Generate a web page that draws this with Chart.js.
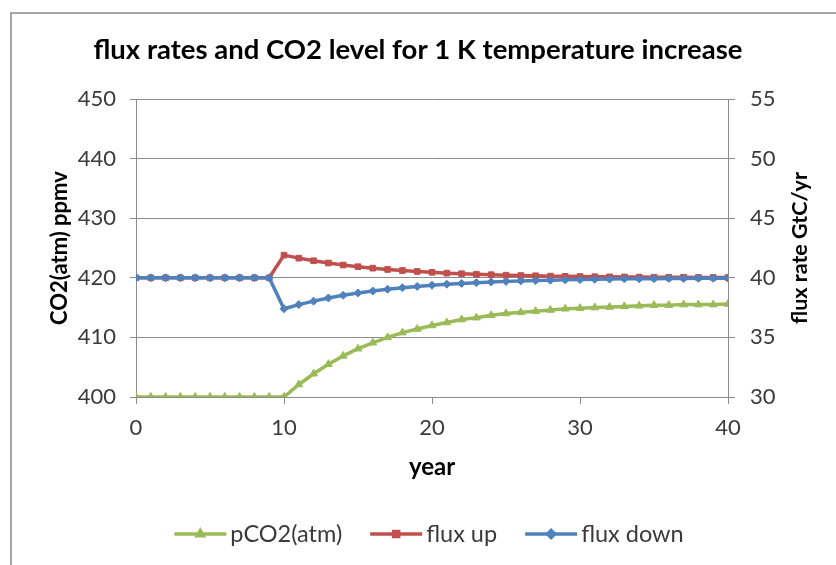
<!DOCTYPE html>
<html lang="en">
<head>
    <meta charset="utf-8" />
    <title>flux rates and CO2 level</title>
    <script src="https://cdn.jsdelivr.net/npm/chart.js"></script>
    <style>
        html, body { margin: 0; padding: 0; background: #fff; }
        #wrap { position: relative; width: 836px; height: 565px; overflow: hidden; }
        #frame {
            position: absolute; left: 10px; top: 12px; width: 900px; height: 700px;
            border-top: 2px solid #a6a6a6; border-left: 2px solid #a6a6a6;
        }
        #chart { position: absolute; left: 0; top: 0; }
    </style>
</head>
<body>
    <div id="wrap">
        <div id="frame"></div>
        <canvas id="chart" width="836" height="565"></canvas>
    </div>
    <script>
        // data
        const years = [0, 1, 2, 3, 4, 5, 6, 7, 8, 9, 10, 11, 12, 13, 14, 15, 16, 17, 18, 19, 20,
            21, 22, 23, 24, 25, 26, 27, 28, 29, 30, 31, 32, 33, 34, 35, 36, 37, 38, 39, 40];
        const pCO2 = [400, 400, 400, 400, 400, 400, 400, 400, 400, 400, 400,
            402.1, 403.9, 405.5, 406.9, 408.1, 409.1, 410.0, 410.8, 411.4, 412.0,
            412.5, 413.0, 413.3, 413.7, 414.0, 414.2, 414.4, 414.6, 414.8, 414.9,
            415.0, 415.1, 415.2, 415.3, 415.4, 415.4, 415.5, 415.5, 415.5, 415.6];
        const fluxUp = [40, 40, 40, 40, 40, 40, 40, 40, 40, 40,
            41.9, 41.65, 41.43, 41.24, 41.07, 40.93, 40.81, 40.70, 40.61, 40.53, 40.46,
            40.39, 40.34, 40.30, 40.26, 40.22, 40.19, 40.17, 40.14, 40.12, 40.11,
            40.09, 40.08, 40.07, 40.06, 40.05, 40.04, 40.04, 40.03, 40.03, 40.02];
        const fluxDown = [40, 40, 40, 40, 40, 40, 40, 40, 40, 40,
            37.4, 37.75, 38.04, 38.31, 38.53, 38.73, 38.89, 39.04, 39.17, 39.28, 39.38,
            39.46, 39.53, 39.59, 39.65, 39.70, 39.74, 39.77, 39.80, 39.83, 39.85,
            39.87, 39.89, 39.91, 39.92, 39.93, 39.94, 39.95, 39.96, 39.96, 39.97];
        const seriesNames = ['pCO2(atm)', 'flux up', 'flux down'];
        const co2Ticks = [400, 410, 420, 430, 440, 450];
        const fluxTicks = [30, 35, 40, 45, 50, 55];
        const yearTicks = [0, 10, 20, 30, 40];

        const FONT = 'Lato, "Open Sans", sans-serif';
        const GRID = '#8c8c8c';
        const TEXT = '#3a3a3a';

        function toPoints(values) {
            return years.map((yr, i) => ({ x: yr, y: values[i] }));
        }

        // legend under the plot, line + marker + label like the spreadsheet one
        const bottomLegend = {
            id: 'bottomLegend',
            afterDraw(chart) {
                const ctx = chart.ctx;
                const y = 534;
                const lineLen = 52, gap = 4, itemGap = 28;
                ctx.save();
                ctx.font = '23.5px ' + FONT;
                const items = chart.data.datasets.map(ds => ({ ds, w: ctx.measureText(ds.label).width }));
                const total = items.reduce((s, it) => s + lineLen + gap + it.w, 0) + itemGap * (items.length - 1);
                let x = 429 - total / 2;
                items.forEach(it => {
                    ctx.strokeStyle = it.ds.borderColor;
                    ctx.lineWidth = 3.5;
                    ctx.beginPath();
                    ctx.moveTo(x, y);
                    ctx.lineTo(x + lineLen, y);
                    ctx.stroke();
                    ctx.fillStyle = it.ds.borderColor;
                    Chart.helpers.drawPoint(ctx, {
                        pointStyle: it.ds.pointStyle, radius: 3.5, rotation: 0, borderWidth: 1
                    }, x + lineLen / 2, y);
                    ctx.fillStyle = TEXT;
                    ctx.textBaseline = 'middle';
                    ctx.textAlign = 'left';
                    ctx.fillText(it.ds.label, x + lineLen + gap, y);
                    x += lineLen + gap + it.w + itemGap;
                });
                ctx.restore();
            }
        };

        // right axis title reads bottom-to-top in the original
        const rightTitle = {
            id: 'rightTitle',
            afterDraw(chart) {
                const ctx = chart.ctx;
                const area = chart.chartArea;
                ctx.save();
                ctx.translate(800, (area.top + area.bottom) / 2);
                ctx.rotate(-Math.PI / 2);
                ctx.font = 'bold 21.5px ' + FONT;
                ctx.fillStyle = '#000';
                ctx.textAlign = 'center';
                ctx.textBaseline = 'middle';
                ctx.fillText('flux rate GtC/yr', 0, 0);
                ctx.restore();
            }
        };

        new Chart(document.getElementById('chart'), {
            type: 'line',
            data: {
                datasets: [{
                    label: seriesNames[0],
                    data: toPoints(pCO2),
                    yAxisID: 'y',
                    borderColor: '#9bbb59',
                    backgroundColor: '#9bbb59',
                    borderWidth: 3.5,
                    pointStyle: 'triangle',
                    pointRadius: 4.5,
                    pointBorderWidth: 1,
                    order: 2
                }, {
                    label: seriesNames[1],
                    data: toPoints(fluxUp),
                    yAxisID: 'y1',
                    borderColor: '#c0504d',
                    backgroundColor: '#c0504d',
                    borderWidth: 3.5,
                    pointStyle: 'rect',
                    pointRadius: 4,
                    pointBorderWidth: 1,
                    order: 1
                }, {
                    label: seriesNames[2],
                    data: toPoints(fluxDown),
                    yAxisID: 'y1',
                    borderColor: '#4f81bd',
                    backgroundColor: '#4f81bd',
                    borderWidth: 3.5,
                    pointStyle: 'rectRot',
                    pointRadius: 4,
                    pointBorderWidth: 1,
                    order: 0
                }]
            },
            options: {
                responsive: false,
                animation: false,
                devicePixelRatio: 1,
                layout: { padding: { left: 0, right: 0, top: 0, bottom: 78 } },
                plugins: {
                    legend: { display: false },
                    tooltip: { enabled: false },
                    title: {
                        display: true,
                        text: 'flux rates and CO2 level for 1 K temperature increase',
                        color: '#000',
                        font: { family: FONT, size: 27.5, weight: 'bold' },
                        padding: { top: 33.5, bottom: 32.5 }
                    }
                },
                scales: {
                    x: {
                        type: 'linear',
                        min: 0,
                        max: 40,
                        afterBuildTicks: scale => { scale.ticks = yearTicks.map(v => ({ value: v })); },
                        afterFit: scale => { scale.height = 90; },
                        grid: { drawOnChartArea: false, drawTicks: true, tickLength: 7, color: GRID },
                        border: { color: GRID, width: 1 },
                        ticks: { color: TEXT, font: { family: FONT, size: 22 }, padding: 11, maxRotation: 0 },
                        title: {
                            display: true, text: 'year', color: '#000',
                            font: { family: FONT, size: 24, weight: 'bold' },
                            padding: { top: 0, bottom: 5.6 }
                        }
                    },
                    y: {
                        position: 'left',
                        min: 400,
                        max: 450,
                        afterBuildTicks: scale => { scale.ticks = co2Ticks.map(v => ({ value: v })); },
                        afterFit: scale => { scale.width = 136; },
                        grid: { color: GRID, tickLength: 6, tickColor: GRID },
                        border: { color: GRID, width: 1 },
                        ticks: { color: TEXT, font: { family: FONT, size: 22 }, padding: 14 },
                        title: {
                            display: true, text: 'CO2(atm) ppmv', color: '#000',
                            font: { family: FONT, size: 22, weight: 'bold' },
                            padding: { top: 46.8, bottom: 0 }
                        }
                    },
                    y1: {
                        position: 'right',
                        min: 30,
                        max: 55,
                        afterBuildTicks: scale => { scale.ticks = fluxTicks.map(v => ({ value: v })); },
                        afterFit: scale => { scale.width = 108; },
                        grid: { drawOnChartArea: false, tickLength: 7, color: GRID },
                        border: { color: GRID, width: 1 },
                        ticks: { color: TEXT, font: { family: FONT, size: 22 }, padding: 15 }
                    }
                }
            },
            plugins: [bottomLegend, rightTitle]
        });
    </script>
</body>
</html>
